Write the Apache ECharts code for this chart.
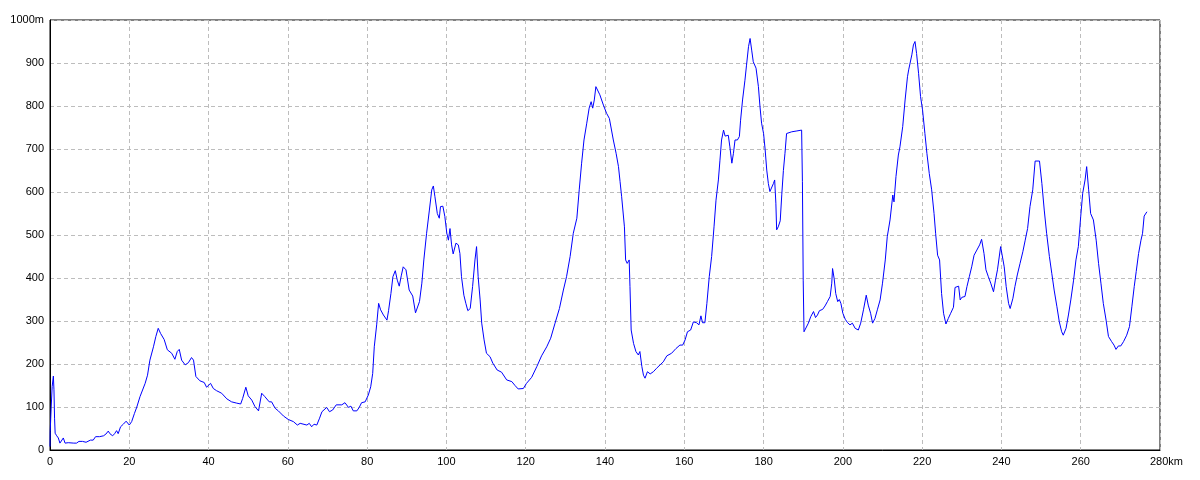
<!DOCTYPE html>
<html>
<head>
<meta charset="utf-8">
<script src="https://cdn.jsdelivr.net/npm/echarts/dist/echarts.min.js"></script>
<style>
html,body{margin:0;padding:0;background:#fff;}
#chart{width:1200px;height:480px;}
</style>
</head>
<body>
<div id="chart"></div>
<script>
// Distance along route (km)
var distanceKm = [
0,0.05,0.3,0.55,0.85,1.0,1.15,1.3,1.7,2.1,2.5,2.9,3.36,3.8,4.2,4.6,5.0,6.0,6.7,7.3,7.8,8.2,8.6,9.1,9.5,10.2,10.9,11.5,12.5,13.5,14.1,14.7,15.1,15.8,16.3,16.8,17.2,17.8,18.5,19.2,
20.0,20.6,21.3,21.9,22.7,24.0,24.6,25.2,26.1,26.7,27.3,27.9,28.8,29.6,30.7,31.5,32.1,32.6,33.2,34.1,34.9,35.7,36.2,36.8,37.8,38.9,39.5,
40.5,41.2,42.0,43.3,44.6,45.8,47.1,48.1,48.6,49.4,50.0,50.9,51.7,52.6,53.4,54.2,55.3,55.9,56.8,57.6,58.9,
60.1,61.4,62.4,63.1,64.8,65.4,66.0,66.6,67.3,68.0,68.6,69.1,69.8,70.5,71.3,72.2,72.7,73.6,74.4,75.3,75.9,76.5,77.4,78.0,78.6,79.5,
80.3,80.9,81.4,81.8,82.4,82.9,83.4,84.1,85.0,85.4,86.0,86.5,87.1,87.6,88.1,88.6,89.1,89.8,90.6,91.5,92.2,93.2,93.8,94.3,95.0,95.7,96.3,96.7,97.1,97.7,98.2,98.5,99.1,99.6,
100.1,100.5,100.9,101.3,101.7,102.4,103.0,103.4,103.8,104.4,104.9,105.4,106.0,106.6,107.2,107.6,108.0,108.5,108.9,109.5,110.1,111.0,111.7,112.8,113.9,115.2,116.5,117.3,118.1,119.4,
120.2,121.5,122.8,124.0,125.3,126.3,127.4,128.5,129.5,130.3,131.2,132.0,132.9,133.5,134.1,134.7,135.4,136.0,136.5,136.9,137.3,137.7,138.1,138.7,139.6,
140.4,141.1,141.5,142.1,142.8,143.4,143.8,144.2,144.6,144.9,145.2,145.6,146.1,146.3,146.6,147.2,147.8,148.4,148.8,149.3,149.7,150.1,150.7,151.4,152.2,153.0,153.9,154.7,155.6,156.8,157.9,158.9,159.6,
160.2,160.8,161.6,162.3,163.1,163.7,164.2,164.6,165.2,165.7,166.3,166.9,167.5,168.0,168.6,169.0,169.4,169.9,170.3,171.1,171.5,172.0,172.4,172.8,173.4,173.9,174.2,174.7,175.3,175.7,176.2,176.6,177.0,177.4,178.1,178.7,179.1,179.5,
180.0,180.4,180.8,181.2,181.6,182.1,182.5,182.8,183.1,183.3,183.7,184.2,184.6,185.0,185.4,185.8,187.1,188.4,189.6,189.8,190.0,190.2,190.7,191.3,191.9,192.6,193.1,193.6,194.1,194.9,195.5,196.1,196.8,197.2,197.4,197.8,198.2,198.7,199.1,199.5,
200.0,200.6,201.2,201.8,202.4,203.1,203.9,204.5,205.2,205.9,206.4,207.0,207.5,208.1,208.7,209.4,210.0,210.7,211.2,211.9,212.6,212.9,213.4,214.0,214.4,215.1,215.7,216.3,216.6,217.0,217.4,217.8,218.2,218.6,219.1,219.6,
220.1,220.7,221.2,221.8,222.4,223.0,223.4,223.9,224.4,224.9,225.4,226.0,226.6,227.2,227.9,228.3,229.2,229.6,230.0,230.8,231.3,231.9,232.5,233.1,233.8,234.5,235.0,235.6,236.1,236.7,237.3,238.0,238.5,239.0,239.5,239.8,
240.2,240.7,241.2,241.8,242.2,242.9,243.4,244.0,244.7,245.4,246.0,246.6,247.2,247.9,248.5,249.6,250.2,250.8,251.4,252.1,252.7,253.3,254.0,254.6,255.2,255.6,256.3,256.9,257.5,258.2,258.8,259.4,
260.0,260.5,261.1,261.5,262.0,262.5,263.2,263.9,264.5,265.1,265.7,266.4,267.0,267.8,268.4,268.9,269.5,270.1,270.8,271.6,272.3,272.9,273.5,274.0,274.6,275.2,275.6,276.0,276.2,276.7
];
// Elevation (m)
var elevationM = [
8,43,100,148,172,140,74,39,33,28,16,16,28,16,16,17,16,16,16,20,23,20,24,18,22,23,23,31,31,33,37,44,38,33,38,45,38,54,60,67,
58,66,85,100,124,155,174,209,240,264,283,271,257,233,225,211,229,234,209,198,203,215,209,171,161,157,146,
155,143,138,132,119,112,109,107,120,146,126,116,101,91,132,124,112,112,97,91,79,
71,66,58,62,58,62,54,60,58,74,89,91,99,89,93,105,101,105,110,99,102,91,91,99,110,112,
128,147,178,240,291,341,326,314,302,324,364,403,417,395,381,405,426,419,372,358,319,345,388,442,504,558,605,614,589,550,539,566,567,543,
504,488,515,477,456,481,477,457,403,360,341,324,329,380,442,473,403,349,295,256,225,217,202,186,181,163,159,150,142,143,
155,169,194,219,240,260,295,329,372,403,450,504,539,605,667,721,760,795,810,795,814,845,849,826,802,
783,771,767,721,690,659,624,589,585,519,442,434,442,380,279,248,229,221,229,194,174,167,182,177,182,190,198,205,219,225,236,244,244,
256,275,279,298,296,291,312,296,296,341,403,450,519,581,628,674,721,744,730,732,705,667,690,721,721,729,767,814,860,895,938,957,930,903,888,845,798,760,
736,698,651,620,601,605,620,628,574,512,519,533,595,650,690,736,740,742,744,624,395,275,279,295,310,322,308,314,324,327,335,345,357,388,422,399,364,345,350,341,
318,304,296,291,295,283,279,295,326,360,337,318,295,306,326,349,388,442,496,535,593,577,636,686,705,752,814,868,884,884,919,942,950,922,876,822,
791,736,690,643,605,550,504,453,442,364,318,293,306,318,332,378,381,349,355,357,380,403,426,453,465,477,490,457,419,403,388,368,395,419,419,473,
475,426,380,341,329,353,380,407,434,461,488,515,566,605,672,672,620,558,504,450,411,372,333,298,275,267,283,314,349,395,442,473,
543,597,628,659,605,550,535,488,434,388,341,302,264,252,244,234,242,242,252,267,287,333,380,415,457,488,504,544,546,554
];
var xTicks = [0,20,40,60,80,100,120,140,160,180,200,220,240,260,280];
var yTicks = [0,100,200,300,400,500,600,700,800,900,1000];

var points = distanceKm.map(function (d, i) { return [d, elevationM[i]]; });

var chart = echarts.init(document.getElementById('chart'), null, {renderer: 'canvas'});
var labelFont = {color: '#000', fontFamily: '"Liberation Sans", Arial, sans-serif', fontSize: 11};
chart.setOption({
  animation: false,
  backgroundColor: '#fff',
  grid: {left: 50, right: 40, top: 20, bottom: 30, show: true, borderColor: '#000', borderWidth: 1, backgroundColor: 'transparent'},
  xAxis: {
    type: 'value', min: xTicks[0], max: xTicks[xTicks.length - 1], interval: 20,
    axisLine: {show: true, onZero: false, lineStyle: {color: '#000', width: 1}},
    axisTick: {show: false},
    splitLine: {show: true, lineStyle: {color: '#bdbdbd', type: [4, 3], width: 1}},
    axisLabel: Object.assign({}, labelFont, {
      margin: 6,
      formatter: function (v) { return v === 280 ? '{s|}280km' : String(v); },
      rich: {s: {width: 13}}
    })
  },
  yAxis: {
    type: 'value', min: yTicks[0], max: yTicks[yTicks.length - 1], interval: 100,
    axisLine: {show: true, onZero: false, lineStyle: {color: '#000', width: 1}},
    axisTick: {show: false},
    splitLine: {show: true, lineStyle: {color: '#bdbdbd', type: [4, 3], width: 1}},
    axisLabel: Object.assign({}, labelFont, {
      margin: 6,
      formatter: function (v) { return v === 1000 ? '1000m' : String(v); }
    })
  },
  series: [{
    type: 'line',
    data: points,
    showSymbol: false,
    symbol: 'none',
    lineStyle: {color: '#0000ff', width: 1},
    itemStyle: {color: '#0000ff'}
  }]
});
</script>
</body>
</html>
